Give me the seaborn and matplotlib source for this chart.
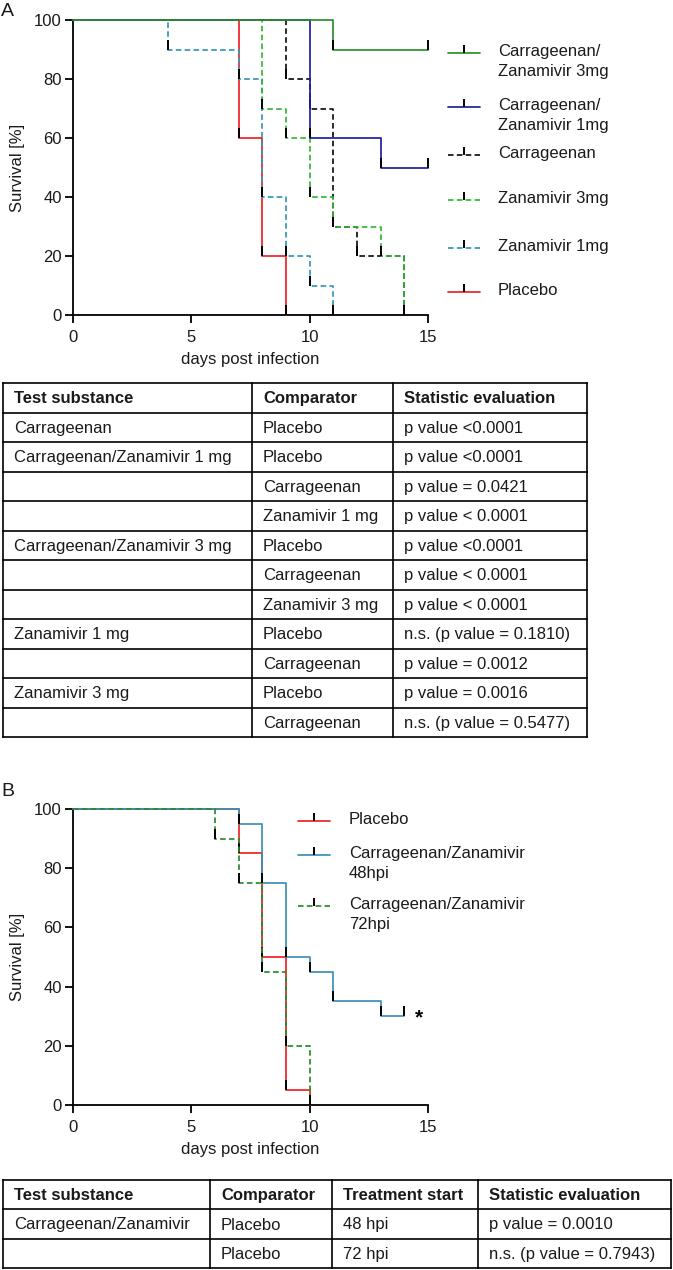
import matplotlib
matplotlib.use("Agg")
import matplotlib.pyplot as plt
import seaborn as sns
import pandas as pd
from matplotlib.lines import Line2D

# ---------------- data: panel A (days / survival %) ----------------
cz3_days = [0, 11, 15]
cz3_surv = [100, 90, 90]
cz1_days = [0, 10, 13, 15]
cz1_surv = [100, 60, 50, 50]
carr_days = [0, 9, 10, 11, 12, 14]
carr_surv = [100, 80, 70, 30, 20, 0]
zan3_days = [0, 8, 9, 10, 11, 13, 14]
zan3_surv = [100, 70, 60, 40, 30, 20, 0]
zan1_days = [0, 4, 7, 8, 9, 10, 11]
zan1_surv = [100, 90, 80, 40, 20, 10, 0]
placA_days = [0, 7, 8, 9]
placA_surv = [100, 60, 20, 0]

# ---------------- data: panel B ----------------
placB_days = [0, 7, 8, 9, 10]
placB_surv = [100, 85, 50, 5, 0]
cz48_days = [0, 7, 8, 9, 10, 11, 13, 14]
cz48_surv = [100, 95, 75, 50, 45, 35, 30, 30]
cz72_days = [0, 6, 7, 8, 9, 10]
cz72_surv = [100, 90, 75, 45, 20, 0]

x_ticks = [0, 5, 10, 15]
y_ticks = [0, 20, 40, 60, 80, 100]

# ---------------- tables ----------------
tA_header = ["Test substance", "Comparator", "Statistic evaluation"]
tA_test = ["Carrageenan", "Carrageenan/Zanamivir 1 mg", "", "",
           "Carrageenan/Zanamivir 3 mg", "", "", "Zanamivir 1 mg", "",
           "Zanamivir 3 mg", ""]
tA_comp = ["Placebo", "Placebo", "Carrageenan", "Zanamivir 1 mg", "Placebo",
           "Carrageenan", "Zanamivir 3 mg", "Placebo", "Carrageenan",
           "Placebo", "Carrageenan"]
tA_stat = ["p value <0.0001", "p value <0.0001", "p value = 0.0421",
           "p value < 0.0001", "p value <0.0001", "p value < 0.0001",
           "p value < 0.0001", "n.s. (p value = 0.1810)", "p value = 0.0012",
           "p value = 0.0016", "n.s. (p value = 0.5477)"]

tB_header = ["Test substance", "Comparator", "Treatment start", "Statistic evaluation"]
tB_test = ["Carrageenan/Zanamivir", ""]
tB_comp = ["Placebo", "Placebo"]
tB_start = ["48 hpi", "72 hpi"]
tB_stat = ["p value = 0.0010", "n.s. (p value = 0.7943)"]

# ---------------- styling ----------------
sns.set_style("ticks")
plt.rcParams['font.family'] = ['Liberation Sans', 'DejaVu Sans']
plt.rcParams['font.size'] = 12
TXT = "#1a1a1a"

W, H = 673, 1270
fig = plt.figure(figsize=(W / 100, H / 100), dpi=100)

def fx(px):
    return px / W

def fy(py):
    return 1 - py / H

def make_axes(left, right, top, bottom):
    return fig.add_axes([fx(left), fy(bottom), fx(right - left), (bottom - top) / H])

DASH = (0, (3.2, 1.9))

def km(ax, days, surv, color, ls, z):
    df = pd.DataFrame({"day": days, "surv": surv})
    sns.lineplot(data=df, x="day", y="surv", ax=ax, color=color, linestyle=ls,
                 linewidth=1.25, drawstyle="steps-post", estimator=None,
                 sort=False, zorder=z, clip_on=False)
    ax.plot(days[1:], surv[1:], linestyle="none", marker=2, markersize=7,
            markeredgewidth=1.4, color="black", zorder=z + 0.5, clip_on=False)

def style_axes(ax):
    ax.set_xlim(0, 15)
    ax.set_ylim(0, 100)
    ax.set_xticks(x_ticks)
    ax.set_yticks(y_ticks)
    sns.despine(ax=ax)
    for s in ["left", "bottom"]:
        ax.spines[s].set_linewidth(1.3)
        ax.spines[s].set_color("black")
    ax.tick_params(axis="both", length=6, width=1.3, color="black",
                   labelsize=12, labelcolor=TXT)
    ax.tick_params(axis="y", pad=2)
    ax.tick_params(axis="x", pad=5)
    ax.set_xlabel("days post infection", fontsize=12, color=TXT)
    ax.set_ylabel("Survival [%]", fontsize=12, color=TXT)
    ax.xaxis.set_label_coords(0.5, -0.125)
    ax.yaxis.set_label_coords(-0.135, 0.5)
    ax.patch.set_alpha(0)

# ---------------- panel A ----------------
axA = make_axes(73, 428, 20, 315)
A_series = [
    ("Carrageenan/\nZanamivir 3mg", cz3_days, cz3_surv, "#2e8f2e", "-"),
    ("Carrageenan/\nZanamivir 1mg", cz1_days, cz1_surv, "#1f1fa3", "-"),
    ("Carrageenan", carr_days, carr_surv, "#111111", DASH),
    ("Zanamivir 3mg", zan3_days, zan3_surv, "#34b834", DASH),
    ("Zanamivir 1mg", zan1_days, zan1_surv, "#3596bd", DASH),
    ("Placebo", placA_days, placA_surv, "#ee2222", "-"),
]
draw_order_A = [5, 4, 2, 3, 1, 0]
for z, idx in enumerate(draw_order_A):
    lab, d, s, c, ls = A_series[idx]
    km(axA, d, s, c, ls, 3 + z)
style_axes(axA)

# ---------------- panel B ----------------
axB = make_axes(73, 428, 809, 1105)
B_series = [
    ("Placebo", placB_days, placB_surv, "#ee2222", "-"),
    ("Carrageenan/Zanamivir\n48hpi", cz48_days, cz48_surv, "#3a90b6", "-"),
    ("Carrageenan/Zanamivir\n72hpi", cz72_days, cz72_surv, "#2a8a2a", DASH),
]
km(axB, placB_days, placB_surv, "#ee2222", "-", 3)
km(axB, cz48_days, cz48_surv, "#3a90b6", "-", 4)
km(axB, cz72_days, cz72_surv, "#2a8a2a", DASH, 5)
style_axes(axB)
axB.text(14.45, 27.5, "*", fontsize=15, fontweight="bold", color="black",
         ha="left", va="baseline")

# ---------------- overlay (legends, letters, tables) ----------------
ov = fig.add_axes([0, 0, 1, 1], zorder=-1)
ov.set_xlim(0, W)
ov.set_ylim(H, 0)
ov.axis("off")

def legend(entries, x0, x1, xt, ys):
    for (lab, d, s, c, ls), y in zip(entries, ys):
        ov.add_line(Line2D([x0, x1], [y, y], color=c, linestyle=ls, linewidth=1.25))
        ov.plot([(x0 + x1) / 2], [y], marker=2, markersize=6, markeredgewidth=1.4,
                color="black", linestyle="none")
        ov.text(xt, y - 9, lab, fontsize=12, color=TXT, ha="left", va="top",
                linespacing=1.45)

legend(A_series, 448, 480, 498, [53, 107, 155, 200, 248, 292])
legend(B_series, 298, 330, 349, [821, 855, 906])

ov.text(1, 11, "A", fontsize=14, color=TXT, ha="left", va="center")
ov.text(1, 791, "B", fontsize=14, color=TXT, ha="left", va="center")

def table(cols_x, top, bottom, header, columns):
    n = len(columns[0]) + 1
    rh = (bottom - top) / n
    for i in range(n + 1):
        y = top + i * rh
        ov.plot([cols_x[0], cols_x[-1]], [y, y], color="black", lw=1.2,
                solid_capstyle="projecting")
    for x in cols_x:
        ov.plot([x, x], [top, bottom], color="black", lw=1.2,
                solid_capstyle="projecting")
    for j, h in enumerate(header):
        ov.text(cols_x[j] + 11, top + rh / 2 + 1, h, fontsize=12, fontweight="bold",
                color=TXT, ha="left", va="center")
    for j, col in enumerate(columns):
        for i, t in enumerate(col):
            ov.text(cols_x[j] + 11, top + (i + 1.5) * rh + 1, t, fontsize=12,
                    color=TXT, ha="left", va="center")

table([3, 252, 393, 587], 383, 737, tA_header, [tA_test, tA_comp, tA_stat])
table([3, 210, 332, 478, 671], 1180, 1268, tB_header,
      [tB_test, tB_comp, tB_start, tB_stat])

fig.savefig("out.png", dpi=100)
